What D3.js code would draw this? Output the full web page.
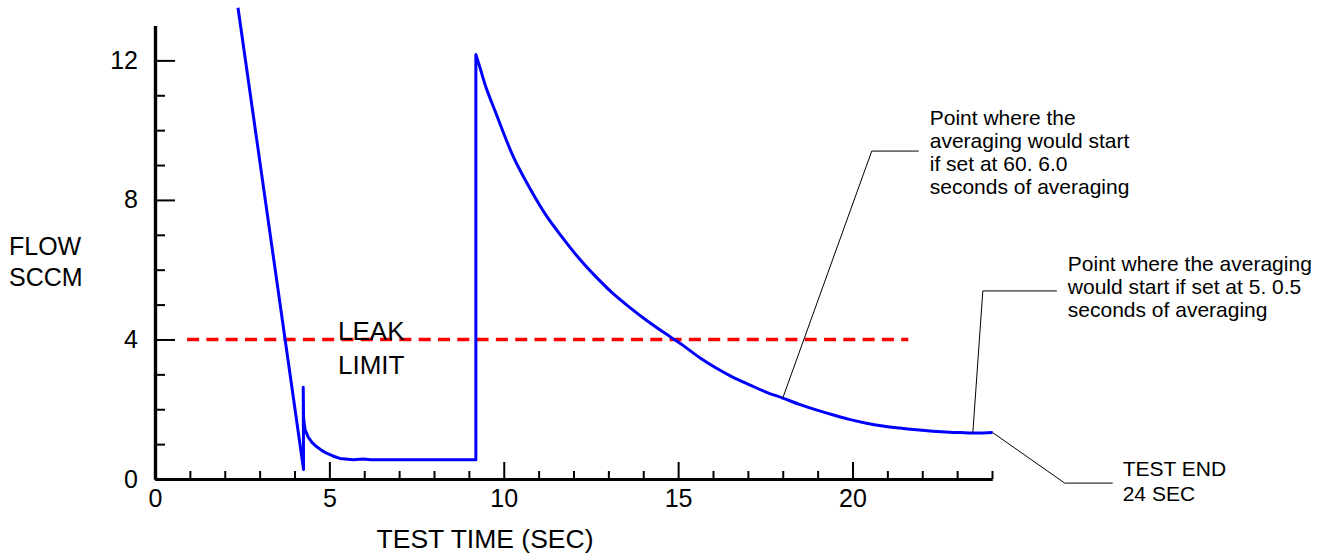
<!DOCTYPE html>
<html>
<head>
<meta charset="utf-8">
<script src="https://cdn.jsdelivr.net/npm/d3@7"></script>
<style>
  body { margin: 0; background: #fff; }
  text { font-family: Arial, "Liberation Sans", sans-serif; fill: #000; }
</style>
</head>
<body>
<div id="chart"></div>
<script>
// flow trace (seconds, sccm)
const timeSec = [
  2.38, 4.26, 4.25, 4.26, 4.30, 4.39, 4.50, 4.63, 4.78, 4.92, 5.10, 5.30, 5.68, 5.97, 6.20, 9.20,
  9.20, 9.31, 9.50, 9.79, 10.27, 10.74, 11.22, 11.70, 12.18, 12.66, 13.13, 13.61, 14.09, 14.56,
  14.95, 15.14, 15.60, 16.09, 16.55, 17.05, 17.50, 18.00, 18.48, 18.96, 19.43, 19.91, 20.40,
  20.87, 21.35, 21.83, 22.30, 22.78, 23.10, 23.45, 23.75, 24.02,
];
const flowSccm = [
  13.51, 0.27, 2.63, 1.75, 1.42, 1.21, 1.05, 0.93, 0.82, 0.74, 0.66, 0.59, 0.55, 0.57, 0.55, 0.55,
  12.17, 11.82, 11.20, 10.45, 9.25, 8.35, 7.55, 6.90, 6.30, 5.78, 5.32, 4.92, 4.55, 4.22,
  3.96, 3.83, 3.49, 3.18, 2.93, 2.70, 2.50, 2.32, 2.14, 1.98, 1.84, 1.71, 1.60,
  1.52, 1.46, 1.41, 1.37, 1.34, 1.33, 1.32, 1.32, 1.33,
];
// index of the pressure-step peak where the smooth decay starts
const decayStart = 16;

const leakLimit = 4;
const limitFrom = 0.92;
const limitTo = 21.6;

const xMajorTicks = [0, 5, 10, 15, 20];
const xMinorTicks = [1, 2, 3, 4, 6, 7, 8, 9, 11, 12, 13, 14, 16, 17, 18, 19, 21, 22, 23, 24];
const yMajorTicks = [0, 4, 8, 12];
const yMinorTicks = [1, 2, 3, 5, 6, 7, 9, 10, 11];

// callouts: time on the trace they point at, and their text lines
const noteTimes = [18.0, 23.45, 24.02];
const noteLines = [
  ['Point where the', 'averaging would start', 'if set at 60. 6.0', 'seconds of averaging'],
  ['Point where the averaging', 'would start if set at 5. 0.5', 'seconds of averaging'],
  ['TEST END', '24 SEC'],
];

const width = 1326;
const height = 557;

const svg = d3.select('#chart')
  .append('svg')
  .attr('width', width)
  .attr('height', height);

const x = d3.scaleLinear().domain([0, 24]).range([155, 992]);
const y = d3.scaleLinear().domain([0, 13]).range([479, 25.5]);

// axes
const yAxisG = svg.append('g').attr('transform', `translate(${x(0)},0)`);
yAxisG.call(d3.axisLeft(y).tickValues(yMinorTicks).tickSize(-10).tickSizeOuter(0).tickFormat(''));
yAxisG.append('g').call(
  d3.axisLeft(y).tickValues(yMajorTicks).tickSize(-20).tickSizeOuter(0).tickPadding(17).tickFormat(d3.format('d'))
);

const xAxisG = svg.append('g').attr('transform', `translate(0,${y(0)})`);
xAxisG.call(d3.axisBottom(x).tickValues(xMinorTicks).tickSize(-8).tickSizeOuter(0).tickFormat(''));
xAxisG.append('g').call(
  d3.axisBottom(x).tickValues(xMajorTicks).tickSize(-17).tickSizeOuter(0).tickPadding(10).tickFormat(d3.format('d'))
);

svg.selectAll('.domain').attr('stroke', '#000').attr('stroke-width', 3.2);
svg.selectAll('.tick line').attr('stroke', '#000').attr('stroke-width', 2);
svg.selectAll('.tick text').attr('font-size', 25).attr('font-family', 'Arial, "Liberation Sans", sans-serif').attr('fill', '#000');

// leak limit
svg.append('line')
  .attr('x1', x(limitFrom))
  .attr('x2', x(limitTo))
  .attr('y1', y(leakLimit))
  .attr('y2', y(leakLimit))
  .attr('stroke', '#ff0000')
  .attr('stroke-width', 3.5)
  .attr('stroke-dasharray', '12,7.3');

svg.append('text').attr('x', 338).attr('y', 340).attr('font-size', 26).text('LEAK');
svg.append('text').attr('x', 338).attr('y', 374).attr('font-size', 26).text('LIMIT');

// flow trace: sharp first part, smooth decay after the step
const flowData = timeSec.map((t, i) => ({ t, v: flowSccm[i] }));
const sharpLine = d3.line().x(d => x(d.t)).y(d => y(d.v));
const smoothLine = d3.line()
  .x(d => x(d.t))
  .y(d => y(d.v))
  .curve(d3.curveCatmullRom.alpha(0.5));

svg.append('path')
  .attr('d', sharpLine(flowData.slice(0, decayStart + 1)) + smoothLine(flowData.slice(decayStart)).replace(/^M[^C]*/, ''))
  .attr('fill', 'none')
  .attr('stroke', '#0000ff')
  .attr('stroke-width', 3)
  .attr('stroke-linejoin', 'round');

// callouts
const flowAt = d3.scaleLinear().domain(timeSec.slice(decayStart)).range(flowSccm.slice(decayStart));
const noteLayout = [
  { elbow: [89, -247], run: 47, textDx: 11, firstBase: -26, step: 23 },
  { elbow: [10, -142], run: 74, textDx: 11, firstBase: -20, step: 23 },
  { elbow: [72, 50.5], run: 48, textDx: 10, firstBase: -7, step: 25 },
];

noteTimes.forEach((t, i) => {
  const px = x(t);
  const py = y(flowAt(t));
  const L = noteLayout[i];
  const ex = px + L.elbow[0];
  const ey = py + L.elbow[1];
  svg.append('path')
    .attr('d', `M${px},${py}L${ex},${ey}H${ex + L.run}`)
    .attr('fill', 'none')
    .attr('stroke', '#000')
    .attr('stroke-width', 1);
  const tx = ex + L.run + L.textDx;
  svg.append('g').selectAll('text')
    .data(noteLines[i])
    .enter()
    .append('text')
    .attr('x', tx)
    .attr('y', (d, j) => ey + L.firstBase + j * L.step)
    .attr('font-size', 21)
    .text(d => d);
});

// axis titles
svg.append('text').attr('x', 9).attr('y', 255).attr('font-size', 25).text('FLOW');
svg.append('text').attr('x', 9).attr('y', 286).attr('font-size', 25).text('SCCM');
svg.append('text')
  .attr('x', 485)
  .attr('y', 548)
  .attr('text-anchor', 'middle')
  .attr('font-size', 26.5)
  .text('TEST TIME (SEC)');
</script>
</body>
</html>
